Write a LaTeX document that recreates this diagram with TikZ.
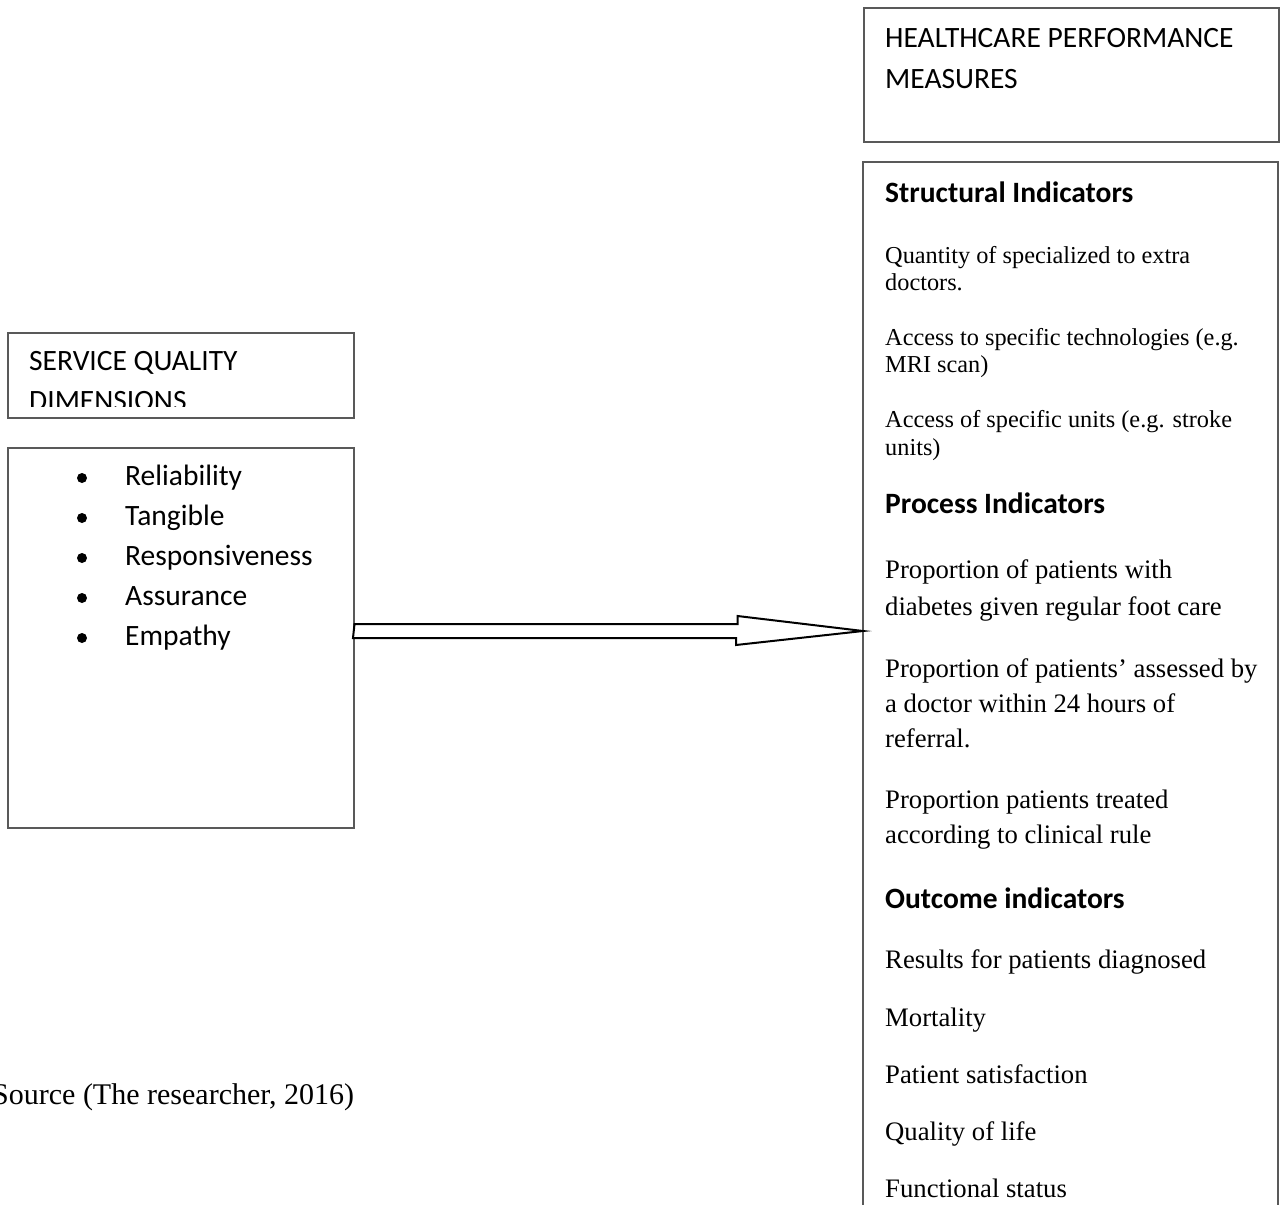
\documentclass[tikz,border=0pt]{standalone}
\usepackage{fontspec}
\setmainfont{Liberation Serif}
\newfontfamily\calibrifont{Carlito}
\begin{document}
\begin{tikzpicture}[x=1pt,y=-1pt,
  box/.style={draw=black!65, line width=1.5pt, inner sep=0pt, anchor=north west},
  boxline/.style={draw=black!65, line width=1.5pt},
  hdr/.style={font=\calibrifont\fontsize{29.5}{35}\selectfont, anchor=base west, inner sep=0pt},
  hbold/.style={font=\calibrifont\bfseries\fontsize{29.5}{35}\selectfont, anchor=base west, inner sep=0pt},
  itm/.style={font=\fontsize{26.7}{32}\selectfont, anchor=base west, inner sep=0pt},
  sitm/.style={font=\fontsize{24.3}{29}\selectfont, anchor=base west, inner sep=0pt},
  src/.style={font=\fontsize{30}{36}\selectfont, anchor=base west, inner sep=0pt},
  dot/.style={circle, fill=black, inner sep=0pt, minimum size=10pt},
  bigarrow/.style={draw=black, line width=2pt, fill=white, line join=miter}
]
\useasboundingbox (0,0) rectangle (1286,1205);

% ---------- left side ----------
\node[box, minimum width=346pt, minimum height=85pt] (sqd) at (7,332) {};
\node[hdr] (sqd1) at (29,370) {SERVICE QUALITY};
\begin{scope}
  \clip (0,0) rectangle (1286,406);
  \node[hdr] (sqd2) at (29,410) {DIMENSIONS};
\end{scope}

\node[box, minimum width=346pt, minimum height=380pt] (items) at (7,447) {};
\foreach \t [count=\i] in {Reliability,Tangible,Responsiveness,Assurance,Empathy}{
  \node[dot] (b\i) at (82,{485+40*(\i-1)-7}) {};
  \node[hdr] (it\i) at (125,{485+40*(\i-1)}) {\t};
}

% ---------- right side ----------
\node[box, minimum width=415pt, minimum height=134pt] (hpm) at (863,7) {};
\node[hdr] (hpm1) at (885,47) {HEALTHCARE PERFORMANCE};
\node[hdr] (hpm2) at (885,88) {MEASURES};

\draw[boxline] (863,1215) -- (863,162) coordinate (indtl) -- (1278,162) -- (1278,1215);
\coordinate (tip) at (863,631);

\node[hbold] (sh) at (885,202) {Structural Indicators};
\node[sitm] (s1a) at (885,263) {Quantity of specialized to extra};
\node[sitm] (s1b) at (885,290) {doctors.};
\node[sitm] (s2a) at (885,345) {Access to specific technologies (e.g.};
\node[sitm] (s2b) at (885,372) {MRI scan)};
\node[sitm] (s3a) at (885,427) {Access of specific units (e.g. stroke};
\node[sitm] (s3b) at (885,455) {units)};

\node[hbold] (ph) at (885,513) {Process Indicators};
\node[itm] (p1a) at (885,578) {Proportion of patients with};
\node[itm] (p1b) at (885,615) {diabetes given regular foot care};
\node[itm] (p2a) at (885,677) {Proportion of patients’ assessed by};
\node[itm] (p2b) at (885,712) {a doctor within 24 hours of};
\node[itm] (p2c) at (885,747) {referral.};
\node[itm] (p3a) at (885,808) {Proportion patients treated};
\node[itm] (p3b) at (885,843) {according to clinical rule};

\node[hbold] (oh) at (885,908) {Outcome indicators};
\node[itm] (o1) at (885,968) {Results for patients diagnosed};
\node[itm] (o2) at (885,1026) {Mortality};
\node[itm] (o3) at (885,1083) {Patient satisfaction};
\node[itm] (o4) at (885,1140) {Quality of life};
\node[itm] (o5) at (885,1197) {Functional status};

% ---------- block arrow ----------
\coordinate (as) at (items.east |- tip);
\draw[bigarrow] (as) ++(0,-7) -- ++(383,0) -- ++(0,-8) -- (tip)
  -- ++(-127,14) -- ++(0,-7) -- ++(-383,0) -- cycle;

% ---------- source ----------
\node[src] (source) at (-8,1104) {Source (The researcher, 2016)};
\end{tikzpicture}
\end{document}
